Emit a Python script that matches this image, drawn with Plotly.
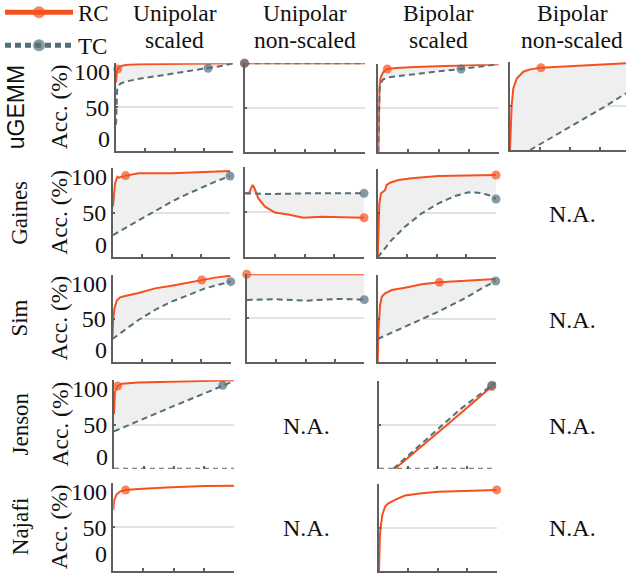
import plotly.graph_objects as go

# ------------------------------------------------------------------
# Data: x = fraction of training progress (0..1), y = accuracy (%)
# *_mark = index of the highlighted point of each curve
# ------------------------------------------------------------------
row_names = ["uGEMM", "Gaines", "Sim", "Jenson", "Najafi"]
col_titles = [["Unipolar", "scaled"], ["Unipolar", "non-scaled"],
              ["Bipolar", "scaled"], ["Bipolar", "non-scaled"]]
y_ticks = [0, 50, 100]
x_ticks = [0, 0.25, 0.5, 0.75, 1.0]

# uGEMM - unipolar scaled
ugemm_us_rc_x = [0, 0.003, 0.008, 0.014, 0.03, 0.06, 0.1, 0.2, 0.4, 0.6, 0.8, 1.0]
ugemm_us_rc_y = [78, 86, 91, 93.5, 96, 97.5, 98.3, 98.8, 99.2, 99.5, 99.7, 100]
ugemm_us_rc_mark = 3
ugemm_us_tc_x = [0, 0.004, 0.01, 0.02, 0.04, 0.08, 0.2, 0.4, 0.6, 0.787, 0.9, 1.0]
ugemm_us_tc_y = [30, 58, 70, 74, 77, 79, 82.5, 86.5, 90.5, 94.3, 97, 100]
ugemm_us_tc_mark = 9

# uGEMM - unipolar non-scaled
ugemm_un_rc_x = [0, 1.0]
ugemm_un_rc_y = [100, 100]
ugemm_un_rc_mark = 0
ugemm_un_tc_x = [0, 1.0]
ugemm_un_tc_y = [100, 100]
ugemm_un_tc_mark = 0

# uGEMM - bipolar scaled
ugemm_bs_rc_x = [0, 0.004, 0.01, 0.02, 0.04, 0.075, 0.15, 0.3, 0.48, 0.7, 0.85, 1.0]
ugemm_bs_rc_y = [0, 45, 75, 85, 91, 94.7, 95.8, 96.8, 97.7, 98.5, 99.2, 100]
ugemm_bs_rc_mark = 5
ugemm_bs_tc_x = [0, 0.005, 0.01, 0.02, 0.04, 0.1, 0.3, 0.5, 0.687, 0.85, 1.0]
ugemm_bs_tc_y = [0, 50, 70, 78, 83, 85.5, 89, 92, 94.7, 97.3, 100]
ugemm_bs_tc_mark = 8

# uGEMM - bipolar non-scaled
ugemm_bn_rc_x = [0, 0.006, 0.014, 0.028, 0.056, 0.111, 0.167, 0.258, 0.5, 0.78, 1.0]
ugemm_bn_rc_y = [0, 30, 51, 70, 81, 88.7, 91.3, 93.2, 95, 97, 98.4]
ugemm_bn_rc_mark = 7
ugemm_bn_tc_x = [0.167, 0.4, 0.6, 0.8, 0.967, 1.0]
ugemm_bn_tc_y = [0, 18, 34, 50, 64, 67]
ugemm_bn_tc_mark = 5

# Gaines - unipolar scaled
gaines_us_rc_x = [0, 0.017, 0.037, 0.05, 0.108, 0.22, 0.5, 0.79, 1.0]
gaines_us_rc_y = [57, 83, 90.6, 89.5, 91.8, 94.4, 94.4, 95.5, 97]
gaines_us_rc_mark = 4
gaines_us_tc_x = [0, 0.125, 0.25, 0.375, 0.5, 0.625, 0.75, 0.875, 1.0]
gaines_us_tc_y = [25, 34.5, 44, 53.5, 62.5, 70.5, 78, 85, 91.4]
gaines_us_tc_mark = 8

# Gaines - unipolar non-scaled
gaines_un_rc_x = [0, 0.034, 0.05, 0.064, 0.08, 0.112, 0.168, 0.252, 0.364, 0.49, 0.644, 0.8, 1.0]
gaines_un_rc_y = [70.4, 70.4, 76, 79.6, 76, 64.8, 55.6, 49, 47, 43.3, 44.4, 43.8, 43.3]
gaines_un_rc_mark = 12
gaines_un_tc_x = [0, 0.224, 0.5, 0.75, 1.0]
gaines_un_tc_y = [70.4, 69.6, 70.4, 70.8, 70.4]
gaines_un_tc_mark = 4

# Gaines - bipolar scaled
gaines_bs_rc_x = [0, 0.006, 0.014, 0.028, 0.048, 0.062, 0.076, 0.104, 0.175, 0.287, 0.513, 0.8, 1.0]
gaines_bs_rc_y = [0, 34.7, 61, 72.5, 75, 76, 82, 84.5, 87.5, 89.4, 92, 93, 93.2]
gaines_bs_rc_mark = 12
gaines_bs_tc_x = [0, 0.118, 0.231, 0.372, 0.513, 0.654, 0.766, 0.851, 0.935, 1.0]
gaines_bs_tc_y = [0, 19.6, 34.7, 49.8, 61, 69.4, 73.6, 73.2, 70.6, 66]
gaines_bs_tc_mark = 9

# Sim - unipolar scaled
sim_us_rc_x = [0, 0.006, 0.017, 0.037, 0.065, 0.107, 0.22, 0.36, 0.5, 0.642, 0.755, 0.868, 1.0]
sim_us_rc_y = [29.4, 50, 62, 71, 74.4, 76, 79.4, 84.7, 87.8, 91.6, 94.3, 97, 99.2]
sim_us_rc_mark = 10
sim_us_tc_x = [0, 0.22, 0.36, 0.5, 0.642, 0.783, 1.0]
sim_us_tc_y = [26.7, 48.5, 60, 69.5, 77, 84.7, 92.4]
sim_us_tc_mark = 6

# Sim - unipolar non-scaled
sim_un_rc_x = [0, 1.0]
sim_un_rc_y = [100, 100]
sim_un_rc_mark = 0
sim_un_tc_x = [0, 0.24, 0.5, 0.78, 1.0]
sim_un_tc_y = [70.8, 71.6, 70, 72, 71.2]
sim_un_tc_mark = 4

# Sim - bipolar scaled
sim_bs_rc_x = [0, 0.006, 0.02, 0.034, 0.062, 0.119, 0.232, 0.373, 0.523, 0.797, 1.0]
sim_bs_rc_y = [0, 35, 65.6, 75, 79, 82.8, 85.5, 89.3, 91.6, 93.5, 95.4]
sim_bs_rc_mark = 8
sim_bs_tc_x = [0, 0.232, 0.514, 0.74, 0.881, 1.0]
sim_bs_tc_y = [26.7, 40.8, 58, 73.3, 84.7, 93.1]
sim_bs_tc_mark = 5

# Jenson - unipolar scaled
jenson_us_rc_x = [0, 0.004, 0.008, 0.03, 0.064, 0.2, 0.5, 0.8, 1.0]
jenson_us_rc_y = [62, 80, 86.8, 93.6, 96.2, 97.4, 98.1, 99, 100]
jenson_us_rc_mark = 3
jenson_us_tc_x = [0, 0.25, 0.5, 0.75, 0.906, 1.0]
jenson_us_tc_y = [42.3, 57, 71, 85, 94.3, 99.2]
jenson_us_tc_mark = 4

# Jenson - bipolar scaled
jenson_bs_rc_x = [0.137, 0.4, 0.6, 0.8, 0.966]
jenson_bs_rc_y = [0, 29, 52, 75, 94]
jenson_bs_rc_mark = 4
jenson_bs_tc_x = [0.123, 0.3, 0.5, 0.7, 0.966, 1.0]
jenson_bs_tc_y = [0, 21, 45, 68.5, 95.4, 99]
jenson_bs_tc_mark = 4

# Jenson zero-level reference (dashed floor)
jenson_floor_x = [0, 1.0]
jenson_floor_y = [0, 0]

# Najafi - unipolar scaled
najafi_us_rc_x = [0, 0.008, 0.028, 0.055, 0.102, 0.207, 0.483, 0.76, 1.0]
najafi_us_rc_y = [69.6, 81, 87.5, 90.5, 92.4, 93.5, 95.4, 97, 97.3]
najafi_us_rc_mark = 4

# Najafi - bipolar scaled
najafi_bs_rc_x = [0, 0.008, 0.017, 0.028, 0.051, 0.079, 0.136, 0.221, 0.363, 0.504, 0.788, 1.0]
najafi_bs_rc_y = [0, 41.5, 53, 64.6, 74, 78, 82, 87, 89.6, 91.5, 92.7, 93.5]
najafi_bs_rc_mark = 11

# ------------------------------------------------------------------
# Layout / style
# ------------------------------------------------------------------
W, H = 626, 575
RC_COLOR = "#F4511E"
TC_COLOR = "#546E7A"
FILL_COLOR = "#EFEFEF"
AXIS_COLOR = "#5f5f5f"
GRID_COLOR = "#e2e2e2"
SERIF = "Liberation Serif, Times New Roman, serif"
SANS = "Liberation Sans, Arial, sans-serif"
TICK_FONT = dict(family=SERIF, size=24, color="#111")

# panel pixel boxes: (x0, x1, ytop, ybottom)
panels = [
    dict(row=1, col=1, box=(116, 233, 63.3, 151.0),
         rc=(ugemm_us_rc_x, ugemm_us_rc_y, ugemm_us_rc_mark),
         tc=(ugemm_us_tc_x, ugemm_us_tc_y, ugemm_us_tc_mark)),
    dict(row=1, col=2, box=(244.5, 365, 63.3, 151.7),
         rc=(ugemm_un_rc_x, ugemm_un_rc_y, ugemm_un_rc_mark),
         tc=(ugemm_un_tc_x, ugemm_un_tc_y, ugemm_un_tc_mark)),
    dict(row=1, col=3, box=(378.3, 498.7, 64.3, 152.3),
         rc=(ugemm_bs_rc_x, ugemm_bs_rc_y, ugemm_bs_rc_mark),
         tc=(ugemm_bs_tc_x, ugemm_bs_tc_y, ugemm_bs_tc_mark)),
    dict(row=1, col=4, box=(510, 630, 61.7, 150.0),
         rc=(ugemm_bn_rc_x, ugemm_bn_rc_y, ugemm_bn_rc_mark),
         tc=(ugemm_bn_tc_x, ugemm_bn_tc_y, ugemm_bn_tc_mark)),
    dict(row=2, col=1, box=(113, 230, 168.3, 257.3),
         rc=(gaines_us_rc_x, gaines_us_rc_y, gaines_us_rc_mark),
         tc=(gaines_us_tc_x, gaines_us_tc_y, gaines_us_tc_mark)),
    dict(row=2, col=2, box=(245, 364, 166.7, 256.7),
         rc=(gaines_un_rc_x, gaines_un_rc_y, gaines_un_rc_mark),
         tc=(gaines_un_tc_x, gaines_un_tc_y, gaines_un_tc_mark)),
    dict(row=2, col=3, box=(377.7, 496, 169, 257.3),
         rc=(gaines_bs_rc_x, gaines_bs_rc_y, gaines_bs_rc_mark),
         tc=(gaines_bs_tc_x, gaines_bs_tc_y, gaines_bs_tc_mark)),
    dict(row=3, col=1, box=(112.5, 230.7, 275, 362.3),
         rc=(sim_us_rc_x, sim_us_rc_y, sim_us_rc_mark),
         tc=(sim_us_tc_x, sim_us_tc_y, sim_us_tc_mark)),
    dict(row=3, col=2, box=(246.7, 364.3, 274.3, 362.3),
         rc=(sim_un_rc_x, sim_un_rc_y, sim_un_rc_mark),
         tc=(sim_un_tc_x, sim_un_tc_y, sim_un_tc_mark)),
    dict(row=3, col=3, box=(377.7, 495.7, 275, 362.3),
         rc=(sim_bs_rc_x, sim_bs_rc_y, sim_bs_rc_mark),
         tc=(sim_bs_tc_x, sim_bs_tc_y, sim_bs_tc_mark)),
    dict(row=4, col=1, box=(114, 234, 380.3, 468.7),
         rc=(jenson_us_rc_x, jenson_us_rc_y, jenson_us_rc_mark),
         tc=(jenson_us_tc_x, jenson_us_tc_y, jenson_us_tc_mark), floor=True),
    dict(row=4, col=3, box=(379, 495.7, 381.3, 468.7),
         rc=(jenson_bs_rc_x, jenson_bs_rc_y, jenson_bs_rc_mark),
         tc=(jenson_bs_tc_x, jenson_bs_tc_y, jenson_bs_tc_mark), floor=True),
    dict(row=5, col=1, box=(113.3, 234, 483.3, 571),
         rc=(najafi_us_rc_x, najafi_us_rc_y, najafi_us_rc_mark), tc=None),
    dict(row=5, col=3, box=(379, 496.7, 484.3, 571),
         rc=(najafi_bs_rc_x, najafi_bs_rc_y, najafi_bs_rc_mark), tc=None),
]


def sizes(n, idx, s=9):
    return [s if i == idx else 0 for i in range(n)]


fig = go.Figure()
layout = {}
annotations = []

for i, p in enumerate(panels, start=1):
    xa = "x" if i == 1 else f"x{i}"
    ya = "y" if i == 1 else f"y{i}"
    x0, x1, yt, yb = p["box"]
    xmax = 1.0
    dom_x1 = x1 / W
    if x1 > W:
        xmax = (W - x0) / (x1 - x0)
        dom_x1 = 1.0
    first = (i == 1)

    rcx, rcy, rcm = p["rc"]
    if p["tc"] is not None:
        tcx, tcy, tcm = p["tc"]
        # shaded gap between the two curves
        fig.add_trace(go.Scatter(x=rcx, y=rcy, mode="lines", line=dict(width=0),
                                 xaxis=xa, yaxis=ya, showlegend=False, hoverinfo="skip"))
        fig.add_trace(go.Scatter(x=tcx, y=tcy, mode="lines", line=dict(width=0),
                                 fill="tonexty", fillcolor=FILL_COLOR,
                                 xaxis=xa, yaxis=ya, showlegend=False, hoverinfo="skip"))
    if p.get("floor"):
        fig.add_trace(go.Scatter(x=jenson_floor_x, y=jenson_floor_y, mode="lines",
                                 line=dict(color=AXIS_COLOR, width=2, dash="5px,4px"),
                                 xaxis=xa, yaxis=ya, showlegend=False, cliponaxis=False,
                                 hoverinfo="skip"))
    fig.add_trace(go.Scatter(
        x=rcx, y=rcy, mode="lines+markers", name="RC", legendgroup="RC",
        showlegend=first,
        line=dict(color=RC_COLOR, width=2),
        marker=dict(color=RC_COLOR, size=sizes(len(rcx), rcm), line=dict(width=0)),
        xaxis=xa, yaxis=ya, cliponaxis=False))
    if p["tc"] is not None:
        fig.add_trace(go.Scatter(
            x=tcx, y=tcy, mode="lines+markers", name="TC", legendgroup="TC",
            showlegend=first,
            line=dict(color=TC_COLOR, width=2, dash="6px,4px"),
            marker=dict(color=TC_COLOR, size=sizes(len(tcx), tcm), line=dict(width=0)),
            xaxis=xa, yaxis=ya, cliponaxis=False))

    xkey = "xaxis" if i == 1 else f"xaxis{i}"
    ykey = "yaxis" if i == 1 else f"yaxis{i}"
    ydom = [1 - yb / H, 1 - yt / H]
    show_lab = (p["col"] == 1)
    layout[xkey] = dict(
        domain=[x0 / W, dom_x1], anchor=ya, range=[0, xmax],
        tickvals=x_ticks, ticks="inside", ticklen=3, tickwidth=1.5, tickcolor=AXIS_COLOR,
        showticklabels=False, showgrid=False, zeroline=False,
        showline=not p.get("floor", False), linecolor=AXIS_COLOR, linewidth=2,
        fixedrange=True)
    layout[ykey] = dict(
        domain=ydom, anchor=xa, range=[0, 100],
        tickvals=y_ticks,
        ticktext=["", "50", ""] if show_lab else [str(v) for v in y_ticks],
        ticks="inside", ticklen=2, tickwidth=1.5, tickcolor=AXIS_COLOR,
        showticklabels=show_lab, tickfont=TICK_FONT,
        showgrid=True, gridcolor=GRID_COLOR, gridwidth=1.5, zeroline=False,
        showline=True, linecolor=AXIS_COLOR, linewidth=2, fixedrange=True)
    if show_lab:
        # end tick labels (100 / 0) tucked inside the axis span, as in the original
        bottom_dy = 2 if yb > H - 10 else -3  # keep the lowest label inside the page
        for val, anchor, dy in ((y_ticks[-1], "top", 6), (y_ticks[0], "bottom", bottom_dy)):
            annotations.append(dict(
                x=x0 / W, xref="paper", y=val, yref=ya,
                text=str(val), showarrow=False, xanchor="right", yanchor=anchor,
                xshift=-4, yshift=dy, font=TICK_FONT))

# column titles
col_centers = [174.5, 305, 438, 572]
for c, (l1, l2) in zip(col_centers, col_titles):
    annotations.append(dict(x=c / W, y=1 - 13 / H, xref="paper", yref="paper",
                            text=l1, showarrow=False, xanchor="center", yanchor="middle",
                            font=dict(family=SERIF, size=23.5, color="#111")))
    annotations.append(dict(x=c / W, y=1 - 40 / H, xref="paper", yref="paper",
                            text=l2, showarrow=False, xanchor="center", yanchor="middle",
                            font=dict(family=SERIF, size=23.5, color="#111")))

# row labels and y-axis titles
row_centers = [107.2, 212.8, 318.6, 424.5, 527.2]
for r, (name, yc) in enumerate(zip(row_names, row_centers)):
    fam = SANS if r == 0 else SERIF
    xc = 16 if r == 0 else 20
    annotations.append(dict(x=xc / W, y=1 - yc / H, xref="paper", yref="paper",
                            text=name, showarrow=False, textangle=-90,
                            xanchor="center", yanchor="middle",
                            font=dict(family=fam, size=23, color="#111")))
    annotations.append(dict(x=59 / W, y=1 - yc / H, xref="paper", yref="paper",
                            text="Acc. (%)", showarrow=False, textangle=-90,
                            xanchor="center", yanchor="middle",
                            font=dict(family=SERIF, size=23.5, color="#111")))

# not-applicable cells
na_cells = [(212.8, 572), (318.6, 572), (424.5, 572), (527.2, 572), (424.5, 306), (527.2, 306)]
for yc, xc in na_cells:
    annotations.append(dict(x=xc / W, y=1 - (yc + 1) / H, xref="paper", yref="paper",
                            text="N.A.", showarrow=False, xanchor="center", yanchor="middle",
                            font=dict(family=SERIF, size=24, color="#111")))

fig.update_layout(
    width=W, height=H,
    margin=dict(l=0, r=0, t=0, b=0, autoexpand=False),
    paper_bgcolor="white", plot_bgcolor="white",
    showlegend=True,
    legend=dict(x=0, y=1.016, xanchor="left", yanchor="top",
                font=dict(family=SERIF, size=23, color="#111"),
                bgcolor="rgba(0,0,0,0)", itemsizing="constant", itemwidth=68,
                tracegroupgap=0),
    annotations=annotations,
    **layout,
)

fig.write_html("out.html", config={"displayModeBar": False},
               post_script="document.body.style.margin='0px';")
